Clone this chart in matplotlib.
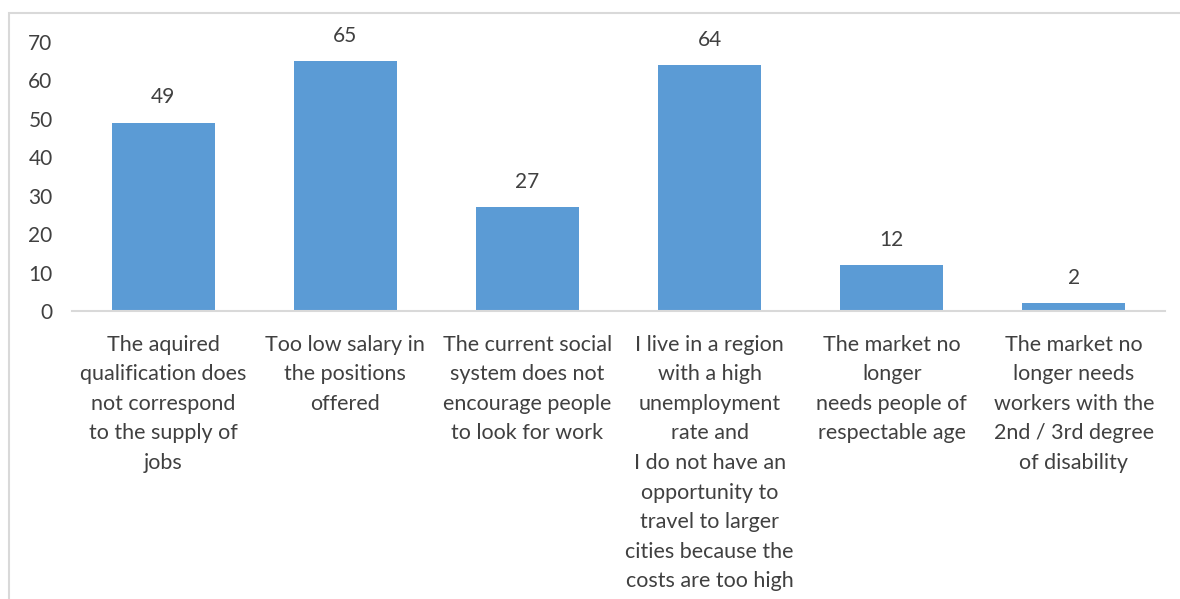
import matplotlib.pyplot as plt
from matplotlib.patches import Rectangle

categories = [
    "The aquired\nqualification does\nnot correspond\nto the supply of\njobs",
    "Too low salary in\nthe positions\noffered",
    "The current social\nsystem does not\nencourage people\nto look for work",
    "I live in a region\nwith a high\nunemployment\nrate and\nI do not have an\nopportunity to\ntravel to larger\ncities because the\ncosts are too high",
    "The market no\nlonger\nneeds people of\nrespectable age",
    "The market no\nlonger needs\nworkers with the\n2nd / 3rd degree\nof disability",
]
values = [49, 65, 27, 64, 12, 2]
yticks = [0, 10, 20, 30, 40, 50, 60, 70]

plt.rcParams['font.family'] = ['Lato', 'DejaVu Sans']
text_color = '#404040'
bar_color = '#5B9BD5'
line_color = '#D9D9D9'

fig = plt.figure(figsize=(11.8, 5.99), dpi=100)
ax = fig.add_axes([72 / 1180, 1 - 311 / 599, (1165 - 72) / 1180, (311 - 42) / 599])

x = range(len(values))
bars = ax.bar(x, values, width=0.566, color=bar_color, zorder=2)
for b, v in zip(bars, values):
    ax.annotate(str(v), (b.get_x() + b.get_width() / 2, v),
                xytext=(0, 11), textcoords='offset points',
                ha='center', va='bottom', fontsize=15, color=text_color)

ax.set_xlim(-0.5, len(values) - 0.5)
ax.set_ylim(0, 70)
ax.set_yticks(yticks)
ax.set_xticks(list(x))
ax.set_xticklabels(categories, fontsize=15.5, color=text_color, linespacing=1.6)
ax.tick_params(axis='y', length=0, pad=14, labelsize=15, labelcolor=text_color)
ax.tick_params(axis='x', length=0, pad=17)

for s in ['top', 'right', 'left']:
    ax.spines[s].set_visible(False)
ax.spines['bottom'].set_color(line_color)
ax.spines['bottom'].set_linewidth(1.5)

# chart frame, runs past the right and bottom edges of the image
fig.patches.append(Rectangle((9 / 1180, -0.1), 1.2, 1.1 - 13 / 599,
                             transform=fig.transFigure, fill=False,
                             edgecolor=line_color, linewidth=1.5))

fig.savefig('out.png', dpi=100)
